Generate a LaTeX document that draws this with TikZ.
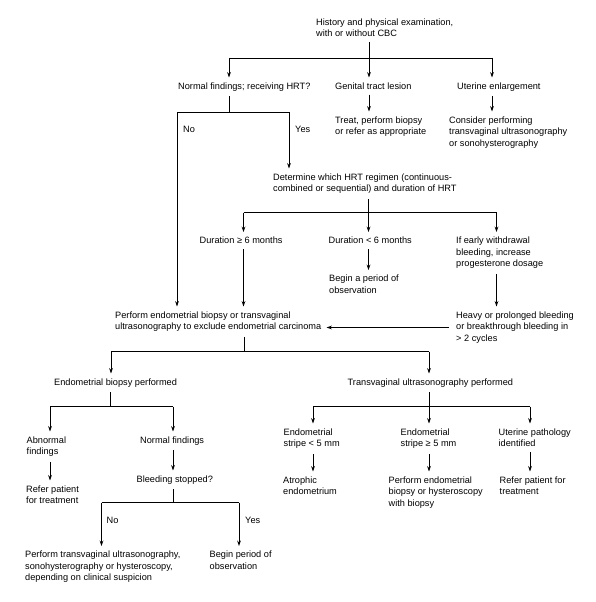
\documentclass[tikz,border=0pt]{standalone}
\usepackage{fontspec}
\setmainfont{Liberation Sans}
\usetikzlibrary{arrows.meta}
\tikzset{
    txt/.style={
        align=left,
        anchor=north west,
        inner xsep=0pt,
        inner ysep=5pt,
        font=\fontsize{9.2}{11.5}\selectfont
    },
    link/.style={
        line width=0.95pt
    },
    arr/.style={
        link,
        -{Stealth[length=5.5pt, width=3.8pt]}
    }
}

\begin{document}
\begin{tikzpicture}[x=1pt, y=-1pt]
    \useasboundingbox (0,0) rectangle (596,602);

    % Top part
    \node[txt] (root) at (316,13.5) {History and physical examination,\\with or without CBC};
    \node[txt] (hrtq) at (178,77.5) {Normal findings; receiving HRT?};
    \node[txt] (lesion) at (335,77.5) {Genital tract lesion};
    \node[txt] (uterus) at (457,77.5) {Uterine enlargement};
    \node[txt] (treat) at (335,111.5) {Treat, perform biopsy\\or refer as appropriate};
    \node[txt] (consider) at (449,111.5) {Consider performing\\transvaginal ultrasonography\\or sonohysterography};
    \node[txt] (no1) at (183,120.5) {No};
    \node[txt] (yes1) at (295,120.5) {Yes};

    % HRT regimen
    \node[txt] (determine) at (273,168.5) {Determine which HRT regimen (continuous-\\combined or sequential) and duration of HRT};
    \node[txt] (dur6) at (199.5,232) {Duration ≥ 6 months};
    \node[txt] (durlt) at (328.5,232) {Duration < 6 months};
    \node[txt] (early) at (456,232) {If early withdrawal\\bleeding, increase\\progesterone dosage};
    \node[txt] (begin) at (329,270) {Begin a period of\\observation};
    \node[txt] (perform) at (115,306.5) {Perform endometrial biopsy or transvaginal\\ultrasonography to exclude endometrial carcinoma};
    \node[txt] (heavy) at (456,306.5) {Heavy or prolonged bleeding\\or breakthrough bleeding in\\> 2 cycles};

    % Biopsy side
    \node[txt] (biopsy) at (54,373.5) {Endometrial biopsy performed};
    \node[txt] (abn) at (26.5,431.5) {Abnormal\\findings};
    \node[txt] (normal) at (140,431.5) {Normal findings};
    \node[txt] (refer1) at (26,480.5) {Refer patient\\for treatment};
    \node[txt] (bleed) at (136.5,470.5) {Bleeding stopped?};
    \node[txt] (no2) at (106.5,512) {No};
    \node[txt] (yes2) at (245,512) {Yes};
    \node[txt] (tvfinal) at (25,546) {Perform transvaginal ultrasonography,\\sonohysterography or hysteroscopy,\\depending on clinical suspicion};
    \node[txt] (observe) at (209.5,546) {Begin period of\\observation};

    % Ultrasonography side
    \node[txt] (tvus) at (347.5,373.5) {Transvaginal ultrasonography performed};
    \node[txt] (stripe1) at (283.5,423.5) {Endometrial\\stripe < 5 mm};
    \node[txt] (stripe2) at (400.5,423.5) {Endometrial\\stripe ≥ 5 mm};
    \node[txt] (uterpath) at (498.5,423.5) {Uterine pathology\\identified};
    \node[txt] (atroph) at (283,471.5) {Atrophic\\endometrium};
    \node[txt] (endobx) at (388.5,471.5) {Perform endometrial\\biopsy or hysteroscopy\\with biopsy};
    \node[txt] (refer2) at (499.5,471.5) {Refer patient for\\treatment};

    % Branch points
    \coordinate (j1) at (369,58);
    \coordinate (j1l) at (229,58);
    \coordinate (j1r) at (492,58);
    \coordinate (j2) at (229,112);
    \coordinate (j2l) at (177,112);
    \coordinate (j2r) at (289,112);
    \coordinate (j3) at (368.5,212.5);
    \coordinate (j3l) at (243.5,212.5);
    \coordinate (j3r) at (496.5,212.5);
    \coordinate (j4) at (244,351.5);
    \coordinate (j4l) at (111,351.5);
    \coordinate (j4r) at (429,351.5);
    \coordinate (j5) at (110,406.5);
    \coordinate (j5l) at (50,406.5);
    \coordinate (j5r) at (173,406.5);
    \coordinate (j6) at (429,406.5);
    \coordinate (j6l) at (313,406.5);
    \coordinate (j6r) at (530,406.5);
    \coordinate (j7) at (173,502.5);
    \coordinate (j7l) at (101.5,502.5);
    \coordinate (j7r) at (239,502.5);

    % History split
    \draw[link] (root.south -| j1) -- (j1);
    \draw[link] (j1l) -- (j1r);
    \draw[arr] (j1l) -- (j1l |- hrtq.north);
    \draw[arr] (j1) -- (j1 |- lesion.north);
    \draw[arr] (j1r) -- (j1r |- uterus.north);
    \draw[arr] (lesion.south -| j1) -- (treat.north -| j1);
    \draw[arr] (uterus.south -| j1r) -- (consider.north -| j1r);

    % No / Yes
    \draw[link] (hrtq.south -| j2) -- (j2);
    \draw[link] (j2l) -- (j2r);
    \draw[arr] (j2l) -- (j2l |- perform.north);
    \draw[arr] (j2r) -- (j2r |- determine.north);

    % Regimen split
    \draw[link] (determine.south -| j3) -- (j3);
    \draw[link] (j3l) -- (j3r);
    \draw[arr] (j3l) -- (j3l |- dur6.north);
    \draw[arr] (j3) -- (j3 |- durlt.north);
    \draw[arr] (j3r) -- (j3r |- early.north);
    \draw[arr] (durlt.south -| j3) -- (begin.north -| j3);
    \draw[arr] (dur6.south -| j3l) -- (perform.north -| j3l);
    \draw[arr] (early.south -| j3r) -- (heavy.north -| j3r);
    \draw[arr] ([xshift=-7pt]heavy.west) -- ([xshift=5pt]perform.east |- heavy.west);

    % Biopsy or ultrasonography
    \draw[link] (perform.south -| j4) -- (j4);
    \draw[link] (j4l) -- (j4r);
    \draw[arr] (j4l) -- (j4l |- biopsy.north);
    \draw[arr] (j4r) -- (j4r |- tvus.north);

    % Biopsy results
    \draw[link] (biopsy.south -| j5) -- (j5);
    \draw[link] (j5l) -- (j5r);
    \draw[arr] (j5l) -- (j5l |- abn.north);
    \draw[arr] (j5r) -- (j5r |- normal.north);
    \draw[arr] (abn.south -| j5l) -- (refer1.north -| j5l);
    \draw[arr] (normal.south -| j5r) -- (bleed.north -| j5r);
    \draw[link] (bleed.south -| j7) -- (j7);
    \draw[link] (j7l) -- (j7r);
    \draw[arr] (j7l) -- (j7l |- tvfinal.north);
    \draw[arr] (j7r) -- (j7r |- observe.north);

    % Ultrasonography results
    \draw[link] (tvus.south -| j6) -- (j6);
    \draw[link] (j6l) -- (j6r);
    \draw[arr] (j6l) -- (j6l |- stripe1.north);
    \draw[arr] (j6) -- (j6 |- stripe2.north);
    \draw[arr] (j6r) -- (j6r |- uterpath.north);
    \draw[arr] (stripe1.south -| j6l) -- (atroph.north -| j6l);
    \draw[arr] (stripe2.south -| j6) -- (endobx.north -| j6);
    \draw[arr] (uterpath.south -| j6r) -- (refer2.north -| j6r);
\end{tikzpicture}
\end{document}
